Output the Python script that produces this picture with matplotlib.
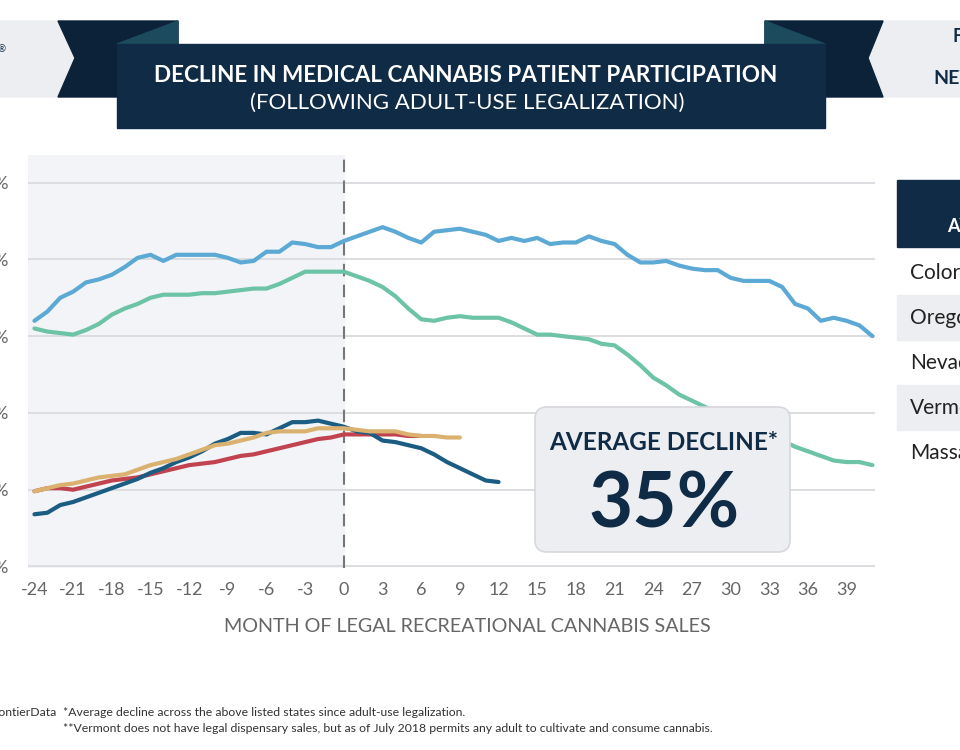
import numpy as np
import matplotlib
matplotlib.use("Agg")
import matplotlib.pyplot as plt
from matplotlib.patches import Polygon, Rectangle, FancyBboxPatch

plt.rcParams['font.family'] = ['Lato', 'DejaVu Sans']

# patients as share of population, by month relative to start of adult-use sales
colorado = [1.60, 1.66, 1.75, 1.79, 1.85, 1.87, 1.90, 1.95, 2.01, 2.03,
            1.99, 2.03, 2.03, 2.03, 2.03, 2.01, 1.98, 1.99, 2.05, 2.05,
            2.11, 2.10, 2.08, 2.08, 2.12, 2.15, 2.18, 2.21, 2.18, 2.14,
            2.11, 2.18, 2.19, 2.20, 2.18, 2.16, 2.12, 2.14, 2.12, 2.14,
            2.10, 2.11, 2.11, 2.15, 2.12, 2.10, 2.03, 1.98, 1.98, 1.99,
            1.96, 1.94, 1.93, 1.93, 1.88, 1.86, 1.86, 1.86, 1.82, 1.71,
            1.68, 1.60, 1.62, 1.60, 1.57, 1.50]
oregon = [1.55, 1.53, 1.52, 1.51, 1.54, 1.58, 1.64, 1.68, 1.71, 1.75,
          1.77, 1.77, 1.77, 1.78, 1.78, 1.79, 1.80, 1.81, 1.81, 1.84,
          1.88, 1.92, 1.92, 1.92, 1.92, 1.89, 1.86, 1.82, 1.76, 1.68,
          1.61, 1.60, 1.62, 1.63, 1.62, 1.62, 1.62, 1.59, 1.55, 1.51,
          1.51, 1.50, 1.49, 1.48, 1.45, 1.44, 1.38, 1.31, 1.23, 1.18,
          1.12, 1.08, 1.04, 1.00, 0.96, 0.93, 0.89, 0.86, 0.82, 0.78,
          0.75, 0.72, 0.69, 0.68, 0.68, 0.66]
nevada = [0.34, 0.35, 0.40, 0.42, 0.45, 0.48, 0.51, 0.54, 0.57, 0.61,
          0.64, 0.68, 0.71, 0.75, 0.80, 0.83, 0.87, 0.87, 0.86, 0.90,
          0.94, 0.94, 0.95, 0.93, 0.91, 0.88, 0.87, 0.82, 0.81, 0.79,
          0.77, 0.73, 0.68, 0.64, 0.60, 0.56, 0.55]
massachusetts = [0.49, 0.51, 0.51, 0.50, 0.52, 0.54, 0.56, 0.57, 0.58, 0.60,
                 0.62, 0.64, 0.66, 0.67, 0.68, 0.70, 0.72, 0.73, 0.75, 0.77,
                 0.79, 0.81, 0.83, 0.84, 0.86, 0.86, 0.86, 0.86, 0.86, 0.85,
                 0.85]
vermont = [0.49, 0.51, 0.53, 0.54, 0.56, 0.58, 0.59, 0.60, 0.63, 0.66,
           0.68, 0.70, 0.73, 0.76, 0.79, 0.80, 0.82, 0.84, 0.87, 0.88,
           0.88, 0.88, 0.90, 0.90, 0.90, 0.89, 0.88, 0.88, 0.88, 0.86,
           0.85, 0.85, 0.84, 0.84]

series = [
    ("Colorado", colorado, "#5ba9d4"),
    ("Oregon", oregon, "#6cc3a5"),
    ("Massachusetts", massachusetts, "#c1434f"),
    ("Nevada", nevada, "#1b5c82"),
    ("Vermont", vermont, "#dbb16f"),
]
states = ["Colorado", "Oregon", "Nevada", "Vermont", "Massachusetts"]
xticks = list(range(-24, 40, 3))
yticks = [0, 0.5, 1.0, 1.5, 2.0, 2.5]

navy = "#0f2b46"
navy_dark = "#0b2238"
fold = "#1c4b5d"
light = "#eceef1"
grey_txt = "#666666"

W, H = 960, 750
fig = plt.figure(figsize=(9.6, 7.5), dpi=100)

# background layer in pixel coordinates
bg = fig.add_axes([0, 0, 1, 1], zorder=0)
bg.set_xlim(0, W)
bg.set_ylim(H, 0)
bg.axis("off")

bg.add_patch(Polygon([(0, 21), (58, 21), (75, 58), (58, 97), (0, 97)], color=light))
bg.add_patch(Polygon([(58, 21), (178, 21), (178, 97), (58, 97), (75, 58)], color=navy_dark))
bg.add_patch(Polygon([(117, 44), (178, 21), (178, 44)], color=fold))
bg.add_patch(Polygon([(883, 21), (960, 21), (960, 97), (883, 97), (868, 58)], color=light))
bg.add_patch(Polygon([(765, 21), (883, 21), (868, 58), (883, 97), (765, 97)], color=navy_dark))
bg.add_patch(Polygon([(765, 21), (825, 44), (765, 44)], color=fold))
bg.add_patch(Rectangle((117, 44), 708, 84, color=navy))

bg.text(466, 76, "DECLINE IN MEDICAL CANNABIS PATIENT PARTICIPATION", color="white",
        fontsize=16.2, fontweight="bold", ha="center", va="center")
bg.text(467, 103, "(FOLLOWING ADULT-USE LEGALIZATION)", color="white",
        fontsize=16, ha="center", va="center")
bg.text(-2, 50, "®", color=navy, fontsize=7, ha="left", va="center")
bg.text(952, 36, "FOR", color=navy, fontsize=13, fontweight="bold", ha="left", va="center")
bg.text(933, 79, "NEW", color=navy, fontsize=14, fontweight="bold", ha="left", va="center")

# side table (cut off by the frame)
bg.add_patch(Rectangle((897, 180), 70, 67, color=navy))
bg.text(947, 227, "AVERAGE", color="white", fontsize=13, fontweight="bold",
        ha="left", va="center")
row_y = [273, 318, 363, 408, 453]
for i, (name, yy) in enumerate(zip(states, row_y)):
    if i % 2 == 1:
        bg.add_patch(Rectangle((897, yy - 23), 70, 45, color=light))
    bg.text(910, yy, name, color="#222222", fontsize=15, ha="left", va="center")

# footer
bg.text(57, 713, "FrontierData", color="#333333", fontsize=8.8, ha="right", va="center")
bg.text(63, 713, "*Average decline across the above listed states since adult-use legalization.",
        color="#333333", fontsize=8.8, ha="left", va="center")
bg.text(63, 729, "**Vermont does not have legal dispensary sales, but as of July 2018 permits "
        "any adult to cultivate and consume cannabis.",
        color="#333333", fontsize=8.8, ha="left", va="center")

# main chart
left, right, top, bottom = 28, 875, 155, 568
ax = fig.add_axes([left / W, 1 - bottom / H, (right - left) / W, (bottom - top) / H], zorder=1)
ax.patch.set_alpha(0)
ax.set_xlim(-24.5, 41.2)
ax.set_ylim(-0.01, 2.68)
ax.axvspan(-24.5, 0, color="#f3f4f7", zorder=0)
for s in ax.spines.values():
    s.set_visible(False)
ax.set_yticks(yticks)
ax.set_yticklabels([f"{v:.1f}%" for v in yticks])
ax.set_xticks(xticks)
ax.set_xticklabels([str(t) for t in xticks])
ax.tick_params(axis="y", length=0, pad=13.7, labelsize=13, labelcolor=grey_txt)
ax.tick_params(axis="x", length=0, pad=10, labelsize=13, labelcolor=grey_txt)
ax.yaxis.grid(True, color="#dcdde0", lw=1.4, zorder=1)
ax.set_axisbelow(True)
ax.axvline(0, color="#777777", lw=1.5, ls=(0, (6, 4)), zorder=2)

for name, vals, col in series:
    months = np.arange(-24, -24 + len(vals))
    ax.plot(months, vals, color=col, lw=3, label=name, zorder=3,
            solid_capstyle="round", solid_joinstyle="round")

fig.text(467 / W, 1 - 627 / H, "MONTH OF LEGAL RECREATIONAL CANNABIS SALES",
         color=grey_txt, fontsize=14.2, ha="center", va="center")

# callout on top
ov = fig.add_axes([0, 0, 1, 1], zorder=3)
ov.set_xlim(0, W)
ov.set_ylim(H, 0)
ov.axis("off")
ov.add_patch(FancyBboxPatch((535, 407), 255, 145, boxstyle="round,pad=0,rounding_size=12",
                            facecolor="#eceef1", edgecolor="#d6d8dc", lw=1.2))
ov.text(664, 442, "AVERAGE DECLINE*", color=navy, fontsize=17.5, fontweight="bold",
        ha="center", va="center")
ov.text(664, 505, "35%", color=navy, fontsize=55, fontweight="bold",
        ha="center", va="center")

fig.savefig("out.png", dpi=100)
